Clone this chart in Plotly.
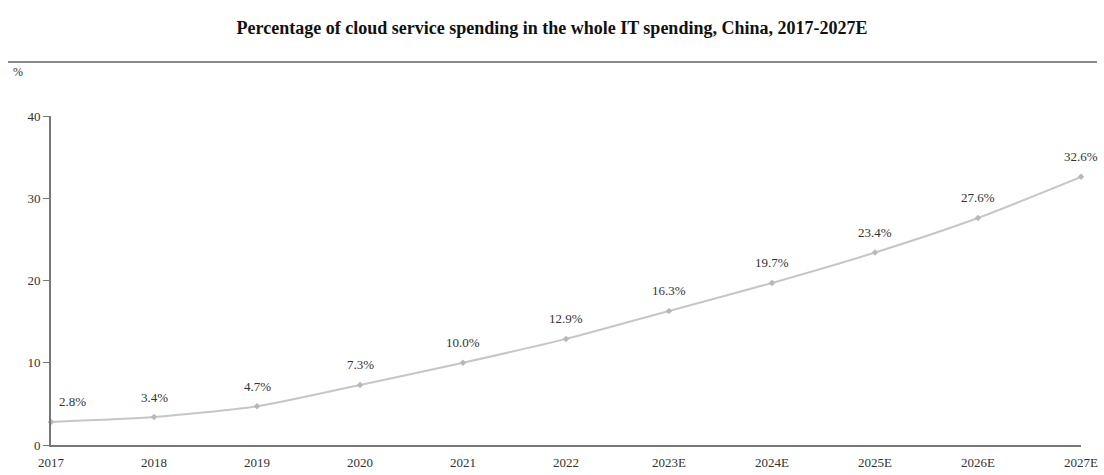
import plotly.graph_objects as go

years = ["2017", "2018", "2019", "2020", "2021", "2022", "2023E", "2024E", "2025E", "2026E", "2027E"]
share = [2.8, 3.4, 4.7, 7.3, 10.0, 12.9, 16.3, 19.7, 23.4, 27.6, 32.6]
labels = [f"{v:.1f}%" for v in share]
y_ticks = [0, 10, 20, 30, 40]

W, H = 1104, 475
ml, mr, mt, mb = 51, 23, 116, 30
pw, ph = W - ml - mr, H - mt - mb

def px(xpix):
    return (xpix - ml) / pw

def py(ypix):
    return (H - mb - ypix) / ph

FONT = "Liberation Serif"
TXT = "#333333"

fig = go.Figure()
fig.add_trace(go.Scatter(
    x=years, y=share, mode="lines+markers",
    line=dict(color="#c6c6c6", width=2, shape="spline", smoothing=0.6),
    marker=dict(color="#b8b8b8", size=5, symbol="diamond"),
    cliponaxis=False, showlegend=False, hoverinfo="x+y",
))

annos = []
for i, (v, lab) in enumerate(zip(share, labels)):
    annos.append(dict(x=i, y=v, text=lab, showarrow=False,
                      xanchor="left" if i == 0 else "center", yanchor="middle",
                      xshift=6 if i == 0 else 0, yshift=20,
                      font=dict(family=FONT, size=13, color=TXT)))
annos.append(dict(text="%", xref="paper", yref="paper", x=px(11), y=py(72),
                  xanchor="left", yanchor="middle", showarrow=False,
                  font=dict(family=FONT, size=12, color=TXT)))

fig.update_layout(
    width=W, height=H,
    margin=dict(l=ml, r=mr, t=mt, b=mb),
    paper_bgcolor="white", plot_bgcolor="white",
    font=dict(family=FONT, size=13, color=TXT),
    title=dict(text="<b>Percentage of cloud service spending in the whole IT spending, China, 2017-2027E</b>",
               x=0.5, xanchor="center", y=1 - 28 / H, yanchor="middle", yref="container",
               font=dict(family=FONT, size=18, color="#111111")),
    xaxis=dict(type="category", range=[0, len(years) - 1], showgrid=False, zeroline=False,
               showline=True, linecolor="#777777", linewidth=2, automargin=False,
               ticks="outside", ticklen=4, tickcolor="rgba(0,0,0,0)",
               tickfont=dict(family=FONT, size=13, color=TXT)),
    yaxis=dict(range=[0, 40], tickvals=y_ticks, showgrid=False, zeroline=False,
               showline=True, linecolor="#777777", linewidth=2, ticks="outside",
               ticklen=6, tickcolor="#777777", automargin=False,
               tickfont=dict(family=FONT, size=13, color=TXT)),
    shapes=[dict(type="line", xref="paper", yref="paper",
                 x0=px(8), x1=px(1097), y0=py(62), y1=py(62),
                 line=dict(color="#8a8a8a", width=2))],
    annotations=annos,
)

fig.write_html("out.html")
